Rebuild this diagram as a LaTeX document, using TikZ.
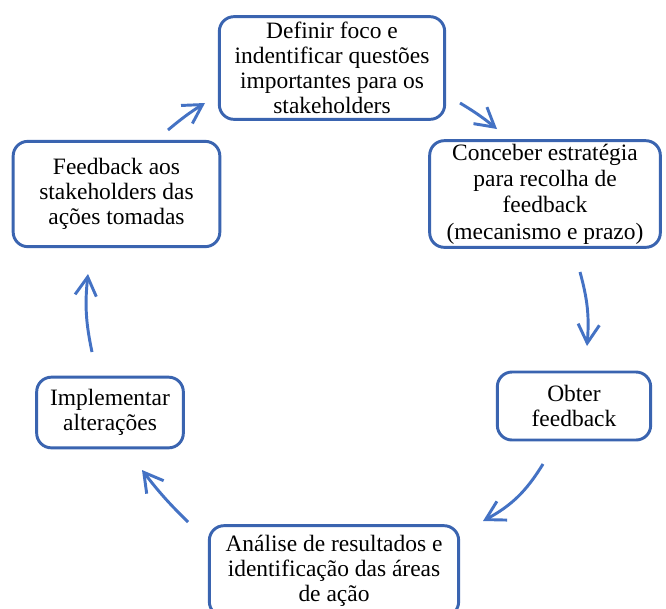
\documentclass[tikz,border=0pt]{standalone}
\usepackage{fontspec}
\setmainfont{Liberation Serif}
\usetikzlibrary{arrows.meta}
\definecolor{boxblue}{HTML}{3A64B0}
\definecolor{arrblue}{HTML}{4472C4}
\begin{document}
\begin{tikzpicture}[x=0.75pt,y=-0.75pt,
  stagebox/.style={draw=boxblue, line width=2.2pt, rounded corners=11pt, align=center, inner sep=0pt, font=\fontsize{17.6}{18.6}\selectfont},
  flowarrow/.style={draw=arrblue, line width=2.2pt, -{Straight Barb[length=14pt,width=16pt,line width=2.2pt]}}]
\clip (0,0) rectangle (666,608);
\fill[white] (0,0) rectangle (666,608);
\node[stagebox, minimum width=169pt, minimum height=77pt] (foco) at (332,68) {Definir foco e\\indentificar questões\\importantes para os\\stakeholders};
\node[stagebox, minimum width=173pt, minimum height=80pt, font=\fontsize{17.6}{19.8}\selectfont] (conceber) at (545,194) {Conceber estratégia\\para recolha de\\feedback\\(mecanismo e prazo)};
\node[stagebox, minimum width=115pt, minimum height=51pt] (obter) at (574,406) {Obter\\feedback};
\node[stagebox, minimum width=187pt, minimum height=68pt] (analise) at (334,571) {Análise de resultados e\\identificação das áreas\\de ação};
\node[stagebox, minimum width=110pt, minimum height=53pt] (implementar) at (110,412.5) {Implementar\\alterações};
\node[stagebox, minimum width=155pt, minimum height=79pt] (retorno) at (116.5,194) {Feedback aos\\stakeholders das\\ações tomadas};

\coordinate (a1s) at (460,103); \coordinate (a1e) at (497,129);
\coordinate (a2s) at (580,272); \coordinate (a2e) at (587,346);
\coordinate (a3s) at (543,464); \coordinate (a3e) at (483,521);
\coordinate (a4s) at (188,522); \coordinate (a4e) at (142,470);
\coordinate (a5s) at (92,352);  \coordinate (a5e) at (88,274);
\coordinate (a6s) at (168,130); \coordinate (a6e) at (205,103);

\draw[flowarrow] (a1s) to[bend left=4] (a1e);
\draw[flowarrow] (a2s) to[bend left=10] (a2e);
\draw[flowarrow] (a3s) to[bend left=15] (a3e);
\draw[flowarrow] (a4s) to[bend left=4] (a4e);
\draw[flowarrow] (a5s) to[bend left=9] (a5e);
\draw[flowarrow] (a6s) to[bend left=4] (a6e);
\end{tikzpicture}
\end{document}
